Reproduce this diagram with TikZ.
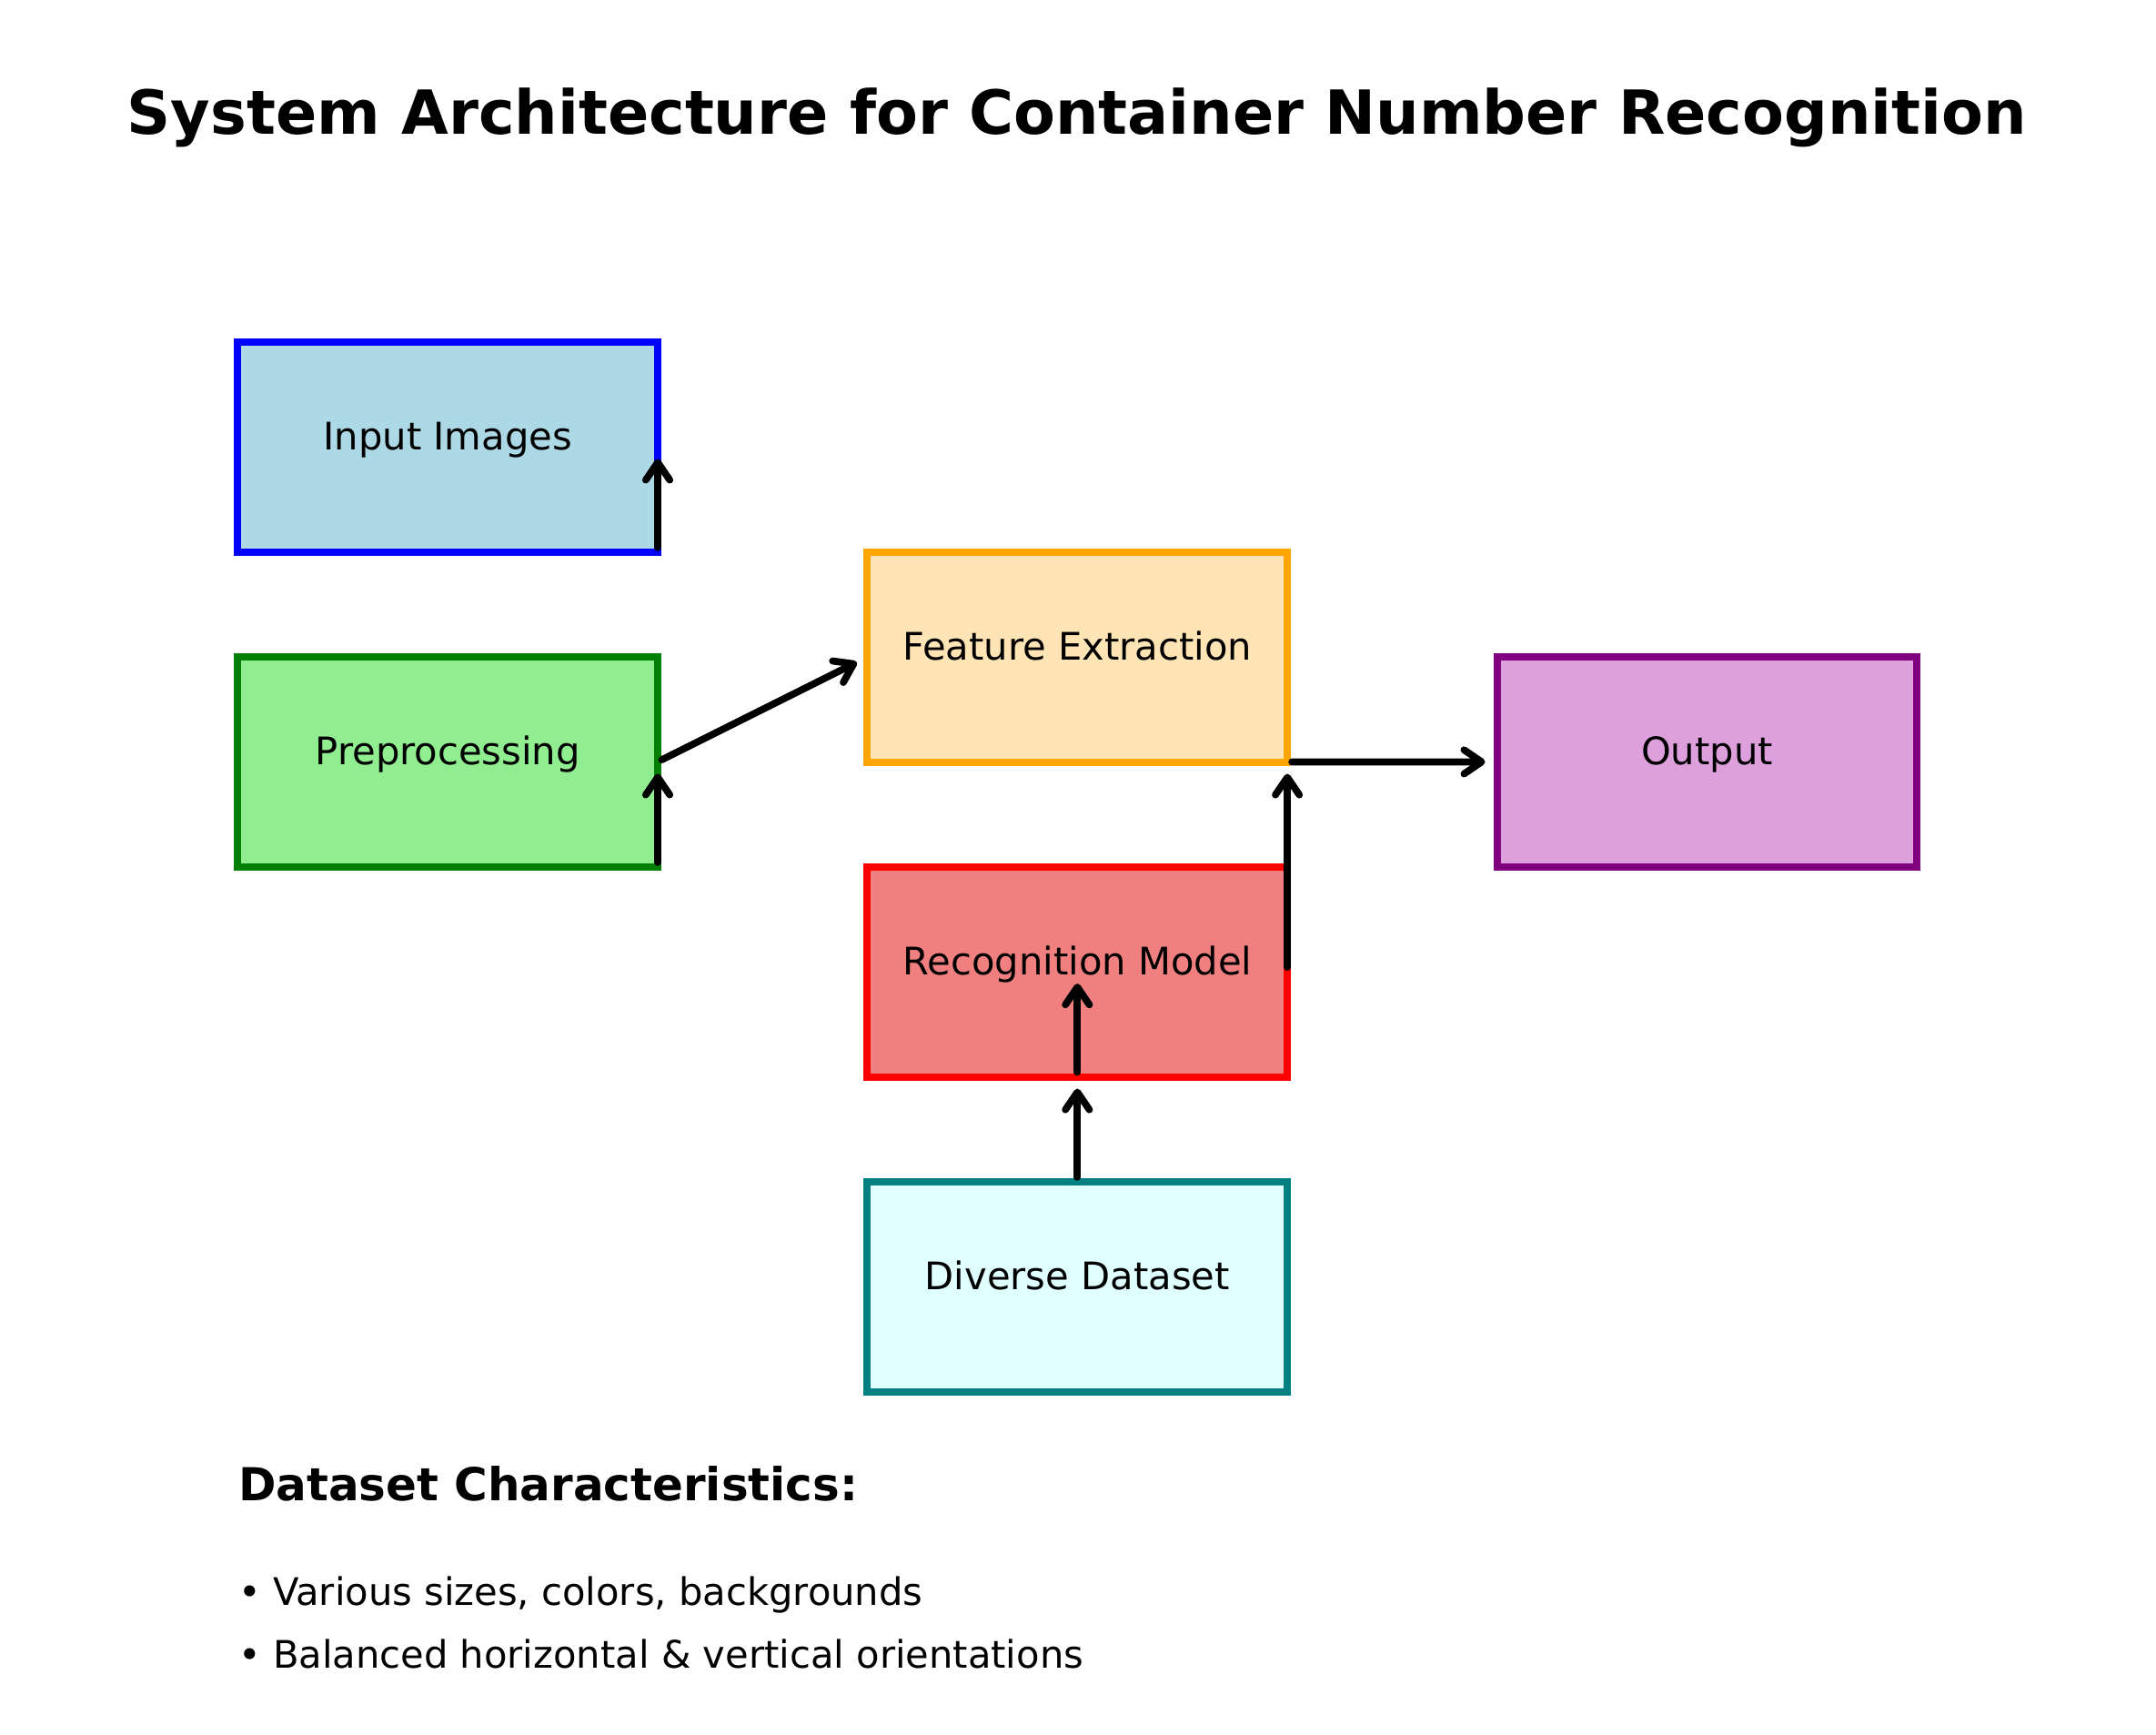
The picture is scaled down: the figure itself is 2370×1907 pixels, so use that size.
\documentclass[tikz,border=0pt]{standalone}
\usepackage{fontspec}
\setmainfont{DejaVu Sans}
\usetikzlibrary{arrows.meta,calc}
\definecolor{inF}{HTML}{ADD8E6}\definecolor{inD}{HTML}{0000FF}
\definecolor{prF}{HTML}{90EE90}\definecolor{prD}{HTML}{008000}
\definecolor{feF}{HTML}{FFE4B5}\definecolor{feD}{HTML}{FFA500}
\definecolor{reF}{HTML}{F08080}\definecolor{reD}{HTML}{FF0000}
\definecolor{ouF}{HTML}{DDA0DD}\definecolor{ouD}{HTML}{800080}
\definecolor{diF}{HTML}{E0FFFF}\definecolor{diD}{HTML}{008080}
\begin{document}
\begin{tikzpicture}[x=0.01cm,y=-0.01cm,
  box/.style={draw, line width=2.28pt, minimum width=4.614cm, minimum height=2.307cm,
    inner sep=0pt, outer sep=0pt, font=\fontsize{11.85}{14}\selectfont,
    text height=3.5pt, text depth=1.8pt},
  arr/.style={line width=2.2pt, line cap=round,
    -{Straight Barb[length=5.5pt,width=7.5pt,line cap=round,line join=round]},
    shorten <=1.4pt, shorten >=3.7pt}]
\useasboundingbox (0,0) rectangle (2370,1907);
\fill[white] (0,0) rectangle (2370,1907);
\node[anchor=base, inner sep=0pt, font=\fontsize{19}{22}\selectfont\bfseries] (title) at (1184,148) {System Architecture for Container Number Recognition};
\node[box, fill=inF, draw=inD] (inp) at (492.2,491.4) {Input Images};
\node[box, fill=prF, draw=prD] (pre) at (492.2,837.4) {Preprocessing};
\node[box, fill=feF, draw=feD] (fea) at (1184.3,722.1) {Feature Extraction};
\node[box, fill=reF, draw=reD] (rec) at (1184.3,1068.1) {Recognition Model};
\node[box, fill=ouF, draw=ouD] (out) at (1876.4,837.4) {Output};
\node[box, fill=diF, draw=diD] (div) at (1184.3,1414.2) {Diverse Dataset};
\draw[arr] (inp.south east) -- (inp.east);
\draw[arr] (pre.south east) -- (pre.east);
\draw[arr] (pre.east) -- (fea.west);
\draw[arr] (fea.south east) -- (out.west);
\draw[arr] (rec.east) -- (fea.south east);
\draw[arr] (rec.south) -- (rec.center);
\draw[arr] (div.north) -- (rec.south);
\node[anchor=base west, inner sep=0pt, font=\fontsize{14.2}{17}\selectfont\bfseries] (dsh) at (261.5,1649) {Dataset Characteristics:};
\node[anchor=base west, inner sep=0pt, font=\fontsize{11.85}{14}\selectfont] (b1) at (261.5,1764) {• Various sizes, colors, backgrounds};
\node[anchor=base west, inner sep=0pt, font=\fontsize{11.85}{14}\selectfont] (b2) at (261.5,1833) {• Balanced horizontal \& vertical orientations};
\end{tikzpicture}
\end{document}
